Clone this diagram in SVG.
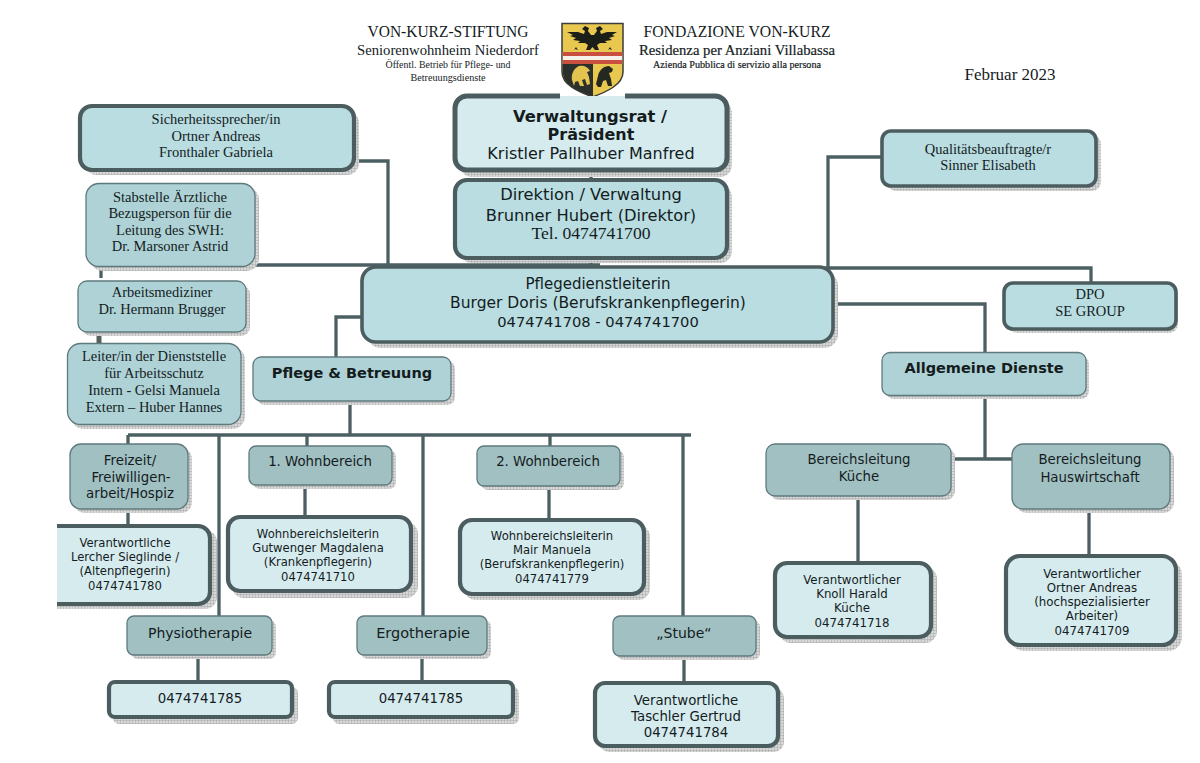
<svg xmlns="http://www.w3.org/2000/svg" width="1200" height="763" viewBox="0 0 1200 763">
<style>
text{text-anchor:middle;fill:#141c1e}
.s{font-family:"DejaVu Sans","Liberation Sans",sans-serif}
.r{font-family:"Liberation Serif","Times New Roman",serif}
.b{font-weight:700}
.r14{font-size:14.500px}.n13{font-size:13.300px}.n14{font-size:14px}.n12{font-size:11.600px}.n118{font-size:11.800px}
.sh{fill:url(#grid);stroke:none}
.thick{stroke:#4c5d60;stroke-width:4.200}
.med{stroke:#4c5d60;stroke-width:3.600}
.thin{stroke:#5f7a7d;stroke-width:1.300}
.pale{fill:#d6ebee}.mid{fill:#b9dde1}.teal{fill:#aed2d5}.dark{fill:#a1c0c2}
.semi{stroke:#141c1e;stroke-width:.2}
#connectors path{fill:none;stroke:#4c6064;stroke-width:3.300}
</style>
<defs>
<pattern id="grid" width="3" height="3" patternUnits="userSpaceOnUse"><rect width="3" height="3" fill="#d8d8d8"/><path d="M0 0H3M0 0V3" stroke="#a9a9a9" stroke-width="1"/></pattern>
<clipPath id="cut"><rect x="57" y="510" width="180" height="110"/></clipPath>
</defs>
<rect width="1200" height="763" fill="#fff"/>
<g id="connectors">
<path d="M591 171V180M591 257V267"/>
<path d="M354 161H388V265M255 265H600"/>
<path d="M882 157H828V269M600 268H1091V283"/>
<path d="M101 266V278"/>
<path d="M99 329V344" style="stroke-width:5;stroke:#555f60"/>
<path d="M362 317H336V358"/>
<path d="M350 401V435M128 435H691M128 435V445M219 435V617M307 435V447M423 435V617M550 435V447M683 435V617"/>
<path d="M128 509V525M305 485V516M549 485V519M198 655V681M422 655V681M684 655V682"/>
<path d="M833 304H985V353M985 395V459M950 459H1013M858 496V562M1089 508V555"/>
</g>
<g id="logo">
<rect x="560" y="22" width="65" height="76" fill="#fff"/>
<path d="M562 23.500H623V72C623 85 606 92 592.500 97C579 92 562 85 562 72Z" fill="#e9c850" stroke="#3a3d3a" stroke-width="1.500"/>
<path d="M562.800 52H622.200V64H562.800Z" fill="#f4f0ea"/>
<path d="M562.800 52H622.200V56H562.800ZM562.800 60H622.200V64H562.800Z" fill="#c9503f"/>
<path d="M562.800 64H593V96.500C579 92 562.800 85 562.800 72Z" fill="#2c302c"/>
<path d="M585 26L589 28L588 31L591 35H594L597 31L596 28L600 26L603 29L600 31L601 34L607 32L617 32L612 35L615 36L609 38L612 40L605 41L607 43L600 43L597 45L599 50H595L592.500 47L590 50H586L588 45L585 43L578 43L580 41L573 40L576 38L570 36L573 35L567 32L578 32L584 34L585 31L582 29Z" fill="#1c1e18"/>
<path d="M574 50L576 47L578 50L575.500 49ZM608 50L610 47L612 50L609.500 49Z" fill="#1c1e18"/>
<path d="M572 80C571 74 574 68 579 66C584 65 588 67 590 71L587 72L589 77L590 84L587 85L585 79L582 80L584 86H580L578 81L575 82L574 86Z" fill="#e4c34e"/>
<path d="M596 84L598 76C599 70 604 66 609 66L613 69L612 72L609 73L611 79L612 86H608L606 80L603 81L601 87H598Z" fill="#25281f"/>
</g>
<g id="n-title-de">
<text class="r" x="448" y="37" font-size="16" textLength="161" lengthAdjust="spacingAndGlyphs">VON-KURZ-STIFTUNG</text>
<text class="r" x="448" y="55" font-size="14" textLength="182" lengthAdjust="spacingAndGlyphs">Seniorenwohnheim Niederdorf</text>
<text class="r" x="448" y="68" font-size="10" textLength="125" lengthAdjust="spacingAndGlyphs">Öffentl. Betrieb für Pflege- und</text>
<text class="r" x="448" y="81" font-size="10" textLength="75" lengthAdjust="spacingAndGlyphs">Betreuungsdienste</text>
</g>
<g id="n-title-it">
<text class="r" x="737" y="37" font-size="16" textLength="187" lengthAdjust="spacingAndGlyphs">FONDAZIONE VON-KURZ</text>
<text class="r semi" x="737" y="55" font-size="14.500" textLength="196" lengthAdjust="spacingAndGlyphs">Residenza per Anziani Villabassa</text>
<text class="r semi" x="737" y="68" font-size="10" textLength="168" lengthAdjust="spacingAndGlyphs">Azienda Pubblica di servizio alla persona</text>
</g>
<g id="n-date"><text class="r" font-size="17" x="1010" y="80">Februar 2023</text></g>

<g id="n-verwaltungsrat">
<rect class="sh" x="460" y="101" width="272" height="76" rx="12"/>
<path class="pale thick" style="stroke-width:5" d="M560 96H467A12 12 0 0 0 455 108V158A12 12 0 0 0 467 170H715A12 12 0 0 0 727 158V108A12 12 0 0 0 715 96H625"/>
<text class="s b" font-size="16.400" x="590" y="122">Verwaltungsrat /</text>
<text class="s b" font-size="16" x="591" y="140">Präsident</text>
<text class="s" font-size="16" x="591" y="159">Kristler Pallhuber Manfred</text>
</g>
<g id="n-direktion">
<rect class="sh" x="460" y="185" width="272" height="78" rx="12"/>
<rect class="mid thick" x="455" y="180" width="272" height="78" rx="12"/>
<text class="s" font-size="16.300" x="591" y="200">Direktion / Verwaltung</text>
<text class="s" font-size="16.300" x="591" y="221">Brunner Hubert (Direktor)</text>
<text class="r" font-size="17.600" x="591" y="239">Tel. 0474741700</text>
</g>
<g id="n-pflegedienst">
<rect class="sh" x="367" y="272" width="471" height="76" rx="14"/>
<rect class="mid med" x="362" y="267" width="471" height="75" rx="14"/>
<text class="s" font-size="15" x="598" y="289">Pflegedienstleiterin</text>
<text class="s" font-size="15.500" x="598" y="308">Burger Doris (Berufskrankenpflegerin)</text>
<text class="s" font-size="14.700" x="598" y="327">0474741708 - 0474741700</text>
</g>
<g id="n-sicherheit">
<rect class="sh" x="85" y="111" width="274" height="64" rx="12"/>
<rect class="mid thick" x="80" y="106" width="274" height="64" rx="12"/>
<text class="r r14" x="216" y="124">Sicherheitssprecher/in</text>
<text class="r r14" x="216" y="141">Ortner Andreas</text>
<text class="r r14" x="216" y="157">Fronthaler Gabriela</text>
</g>
<g id="n-stabstelle">
<rect class="sh" x="90" y="187" width="169" height="84" rx="13"/>
<rect class="teal thin" x="86" y="183.500" width="169" height="83" rx="13"/>
<text class="r r14" x="170" y="202">Stabstelle Ärztliche</text>
<text class="r r14" x="170" y="218">Bezugsperson für die</text>
<text class="r r14" x="170" y="235">Leitung des SWH:</text>
<text class="r r14" x="170" y="251">Dr. Marsoner Astrid</text>
</g>
<g id="n-arbeitsmediziner">
<rect class="sh" x="82" y="285" width="168" height="51" rx="9"/>
<rect class="teal thin" x="78" y="281" width="168" height="51" rx="9"/>
<text class="r r14" x="162" y="297">Arbeitsmediziner</text>
<text class="r r14" x="162" y="314">Dr. Hermann Brugger</text>
</g>
<g id="n-leiter">
<rect class="sh" x="71" y="347" width="174" height="82" rx="13"/>
<rect class="teal thin" x="67.500" y="343.500" width="173.500" height="81" rx="13"/>
<text class="r r14" x="154" y="361">Leiter/in der Dienststelle</text>
<text class="r r14" x="154" y="378">für Arbeitsschutz</text>
<text class="r r14" x="154" y="395">Intern - Gelsi Manuela</text>
<text class="r r14" x="154" y="412">Extern – Huber Hannes</text>
</g>
<g id="n-qualitaet">
<rect class="sh" x="887" y="135" width="214" height="56" rx="9"/>
<rect class="mid med" x="882" y="131" width="214" height="55" rx="9"/>
<text class="r r14" x="988" y="154">Qualitätsbeauftragte/r</text>
<text class="r r14" x="988" y="170">Sinner Elisabeth</text>
</g>
<g id="n-dpo">
<rect class="sh" x="1008" y="287" width="170" height="46" rx="9"/>
<rect class="mid med" x="1004" y="283" width="172" height="46" rx="9"/>
<text class="r r14" x="1090" y="299">DPO</text>
<text class="r r14" x="1090" y="316">SE GROUP</text>
</g>
<g id="n-pflege-betreuung">
<rect class="sh" x="257" y="361" width="198" height="44" rx="8"/>
<rect class="teal thin" x="253" y="357" width="198" height="44" rx="8"/>
<text class="s b" font-size="14.500" x="352" y="378">Pflege &amp; Betreuung</text>
</g>
<g id="n-allgemeine">
<rect class="sh" x="886" y="356" width="203" height="43" rx="8"/>
<rect class="teal thin" x="882" y="352.500" width="204" height="43" rx="8"/>
<text class="s b" font-size="14.500" x="984" y="373">Allgemeine Dienste</text>
</g>
<g id="n-kueche">
<rect class="sh" x="770" y="448" width="185" height="52" rx="9"/>
<rect class="dark thin" x="766" y="444" width="185" height="52" rx="9"/>
<text class="s n13" x="859" y="464">Bereichsleitung</text>
<text class="s n13" x="859" y="481">Küche</text>
</g>
<g id="n-hauswirtschaft">
<rect class="sh" x="1016" y="448" width="158" height="65" rx="11"/>
<rect class="dark thin" x="1012" y="444" width="158" height="65" rx="11"/>
<text class="s n13" x="1090" y="464">Bereichsleitung</text>
<text class="s n13" x="1090" y="482">Hauswirtschaft</text>
</g>
<g id="n-freizeit">
<rect class="sh" x="74" y="448" width="118" height="65" rx="11"/>
<rect class="dark thin" x="70" y="444" width="118" height="65" rx="11"/>
<text class="s n13" x="130" y="465">Freizeit/</text>
<text class="s n13" x="131" y="482">Freiwilligen-</text>
<text class="s n13" x="130" y="498">arbeit/Hospiz</text>
</g>
<g id="n-wohn1">
<rect class="sh" x="253" y="450" width="143" height="39" rx="7"/>
<rect class="dark thin" x="249" y="446" width="143" height="39" rx="7"/>
<text class="s n13" x="320" y="466">1. Wohnbereich</text>
</g>
<g id="n-wohn2">
<rect class="sh" x="481" y="450" width="143" height="40" rx="7"/>
<rect class="dark thin" x="477" y="446" width="143" height="40" rx="7"/>
<text class="s n13" x="548" y="466">2. Wohnbereich</text>
</g>
<g id="n-lercher">
<g clip-path="url(#cut)">
<rect class="sh" x="40" y="530" width="177" height="79" rx="12"/>
<rect class="pale thick" x="35" y="526" width="175" height="78" rx="12"/>
</g>
<text class="s n12" x="125" y="547">Verantwortliche</text>
<text class="s n12" x="125" y="561">Lercher Sieglinde /</text>
<text class="s n12" x="125" y="575">(Altenpflegerin)</text>
<text class="s n12" x="125" y="590">0474741780</text>
</g>
<g id="n-gutwenger">
<rect class="sh" x="232" y="522" width="186" height="76" rx="12"/>
<rect class="pale thick" x="228" y="517" width="183" height="74" rx="12"/>
<text class="s n12" x="318" y="538">Wohnbereichsleiterin</text>
<text class="s n12" x="318" y="552">Gutwenger Magdalena</text>
<text class="s n12" x="318" y="566">(Krankenpflegerin)</text>
<text class="s n12" x="318" y="581">0474741710</text>
</g>
<g id="n-mair">
<rect class="sh" x="464" y="525" width="186" height="75" rx="12"/>
<rect class="pale thick" x="460" y="520" width="184" height="74" rx="12"/>
<text class="s n12" x="552" y="540">Wohnbereichsleiterin</text>
<text class="s n12" x="552" y="554">Mair Manuela</text>
<text class="s n12" x="552" y="568">(Berufskrankenpflegerin)</text>
<text class="s n12" x="552" y="583">0474741779</text>
</g>
<g id="n-physio">
<rect class="sh" x="131" y="620" width="145" height="39" rx="7"/>
<rect class="dark thin" x="127" y="616" width="145" height="39" rx="7"/>
<text class="s n14" x="200" y="638">Physiotherapie</text>
</g>
<g id="n-ergo">
<rect class="sh" x="361" y="620" width="130" height="39" rx="7"/>
<rect class="dark thin" x="357" y="616" width="130" height="39" rx="7"/>
<text class="s" font-size="14.500" x="423" y="638">Ergotherapie</text>
</g>
<g id="n-stube">
<rect class="sh" x="617" y="620" width="143" height="40" rx="7"/>
<rect class="dark thin" x="613" y="616" width="143" height="40" rx="7"/>
<text class="s n14" x="684" y="638">„Stube“</text>
</g>
<g id="n-phone1">
<rect class="sh" x="113" y="687" width="185" height="37" rx="6"/>
<rect class="pale thick" x="109" y="682" width="183" height="35" rx="6"/>
<text class="s n13" x="200" y="703">0474741785</text>
</g>
<g id="n-phone2">
<rect class="sh" x="333" y="687" width="186" height="37" rx="6"/>
<rect class="pale thick" x="329" y="682" width="184" height="35" rx="6"/>
<text class="s n13" x="421" y="703">0474741785</text>
</g>
<g id="n-taschler">
<rect class="sh" x="599" y="688" width="185" height="64" rx="10"/>
<rect class="pale thick" x="595" y="683" width="183" height="63" rx="10"/>
<text class="s n13" x="686" y="705">Verantwortliche</text>
<text class="s n13" x="686" y="721">Taschler Gertrud</text>
<text class="s n13" x="686" y="737">0474741784</text>
</g>
<g id="n-knoll">
<rect class="sh" x="779" y="567" width="158" height="76" rx="12"/>
<rect class="pale thick" x="775" y="563" width="156" height="74" rx="12"/>
<text class="s n118" x="852" y="584">Verantwortlicher</text>
<text class="s n118" x="852" y="598">Knoll Harald</text>
<text class="s n118" x="852" y="612">Küche</text>
<text class="s n118" x="852" y="627">0474741718</text>
</g>
<g id="n-ortner">
<rect class="sh" x="1010" y="561" width="172" height="90" rx="14"/>
<rect class="pale thick" x="1006" y="556" width="170" height="89" rx="14"/>
<text class="s n118" x="1092" y="578">Verantwortlicher</text>
<text class="s n118" x="1092" y="592">Ortner Andreas</text>
<text class="s n118" x="1092" y="606">(hochspezialisierter</text>
<text class="s n118" x="1092" y="620">Arbeiter)</text>
<text class="s n118" x="1092" y="635">0474741709</text>
</g>
</svg>
